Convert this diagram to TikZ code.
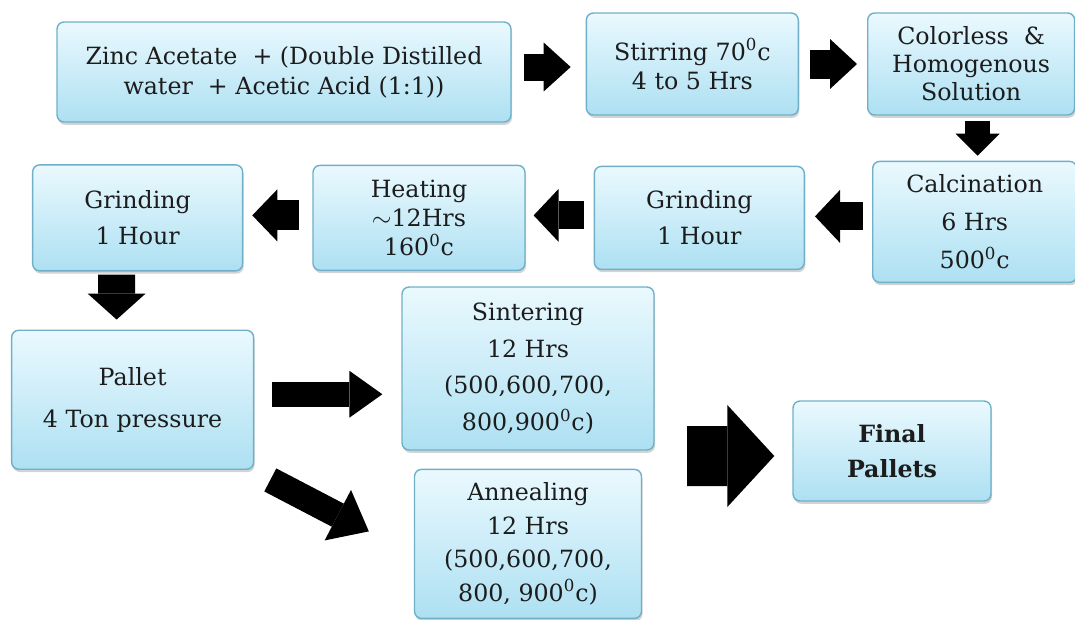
\documentclass[tikz,border=0pt]{standalone}
\usepackage{fontspec}
\setmainfont{DejaVu Serif}
\usepackage{tikz}
\usetikzlibrary{arrows.meta,positioning,shadows}

\definecolor{boxtop}{HTML}{EAF9FE}
\definecolor{boxbottom}{HTML}{ADE0F2}
\definecolor{boxedge}{HTML}{6FB0C8}
\definecolor{boxtext}{HTML}{1C1C1C}

\tikzset{
  stepbox/.style={rectangle, rounded corners=4pt, draw=boxedge, line width=0.8pt,
    top color=boxtop, bottom color=boxbottom,
    drop shadow={shadow xshift=0.6pt, shadow yshift=-1.6pt, opacity=0.35},
    align=center, text=boxtext, inner sep=0pt, font=\fontsize{13.5}{17}\selectfont},
  fatarrow/.style n args={3}{draw=black, line width=#1,
    -{Triangle[width=#2, length=#3, line width=0pt]}}
}

\begin{document}
\begin{tikzpicture}[x=0.02cm, y=-0.02cm]
\useasboundingbox (0,0) rectangle (1075,619);

% top row
\node[stepbox, minimum width=9.08cm, minimum height=2cm] (zinc_acetate) at (284,72) {Zinc Acetate~~+ (Double Distilled\\water~~+ Acetic Acid (1:1))};
\node[stepbox, minimum width=4.24cm, minimum height=2.04cm, right = 1.48cm of zinc_acetate, yshift=0.16cm, font=\fontsize{13.5}{16.5}\selectfont] (stirring) {Stirring 70\textsuperscript{0}c\\4 to 5 Hrs};
\node[stepbox, minimum width=4.14cm, minimum height=2.04cm, right = 1.36cm of stirring, font=\fontsize{13.5}{16}\selectfont] (solution) {Colorless~~\&\\Homogenous\\Solution};

% second row, right to left
\node[stepbox, minimum width=4.08cm, minimum height=2.42cm, below = 0.9cm of solution, xshift=0.07cm, font=\fontsize{13.5}{21.5}\selectfont] (calcination) {Calcination\\6 Hrs\\500\textsuperscript{0}c};
\node[stepbox, minimum width=4.2cm, minimum height=2.06cm, left = 1.34cm of calcination, yshift=0.08cm, font=\fontsize{13.5}{20.5}\selectfont] (grinding_b) {Grinding\\1 Hour};
\node[stepbox, minimum width=4.24cm, minimum height=2.1cm, left = 1.36cm of grinding_b, font=\fontsize{13.5}{16.5}\selectfont] (heating) {Heating\\$\sim$12Hrs\\160\textsuperscript{0}c};
\node[stepbox, minimum width=4.2cm, minimum height=2.12cm, left = 1.38cm of heating, font=\fontsize{13.5}{20.5}\selectfont] (grinding_a) {Grinding\\1 Hour};

% bottom part
\node[stepbox, minimum width=4.84cm, minimum height=2.78cm, below = 1.16cm of grinding_a, xshift=-0.1cm, font=\fontsize{13.5}{24}\selectfont] (pallet) {Pallet\\4 Ton pressure};
\node[stepbox, minimum width=5.04cm, minimum height=3.26cm, font=\fontsize{13.5}{21}\selectfont] (sintering) at (528,368.5) {Sintering\\12 Hrs\\(500,600,700,\\800,900\textsuperscript{0}c)};
\node[stepbox, minimum width=4.54cm, minimum height=2.98cm, below = 0.36cm of sintering, font=\fontsize{13.5}{19}\selectfont] (annealing) {Annealing\\12 Hrs\\(500,600,700,\\800, 900\textsuperscript{0}c)};
\node[stepbox, minimum width=3.96cm, minimum height=2cm, font=\fontsize{13.5}{20}\selectfont\bfseries] (final_pallets) at (892,451) {Final\\Pallets};
\coordinate (merge) at (687,456);

% block arrows
\draw[fatarrow={0.54cm}{0.98cm}{0.54cm}] ([xshift=0.24cm, yshift=0.1cm]zinc_acetate.east) -- ([xshift=-0.3cm, yshift=-0.06cm]stirring.west);
\draw[fatarrow={0.58cm}{1cm}{0.54cm}] ([xshift=0.22cm]stirring.east) -- ([xshift=-0.2cm]solution.west);
\draw[fatarrow={0.5cm}{0.88cm}{0.44cm}] ([xshift=0.13cm, yshift=-0.1cm]solution.south) -- ([xshift=0.06cm, yshift=0.1cm]calcination.north);
\draw[fatarrow={0.56cm}{1.06cm}{0.5cm}] ([xshift=-0.18cm, yshift=0.11cm]calcination.west) -- ([xshift=0.2cm, yshift=0.03cm]grinding_b.east);
\draw[fatarrow={0.56cm}{1.06cm}{0.5cm}] ([xshift=-0.2cm, yshift=0.05cm]grinding_b.west) -- ([xshift=0.16cm, yshift=0.05cm]heating.east);
\draw[fatarrow={0.6cm}{1.04cm}{0.5cm}] ([xshift=-0.26cm, yshift=0.05cm]heating.west) -- ([xshift=0.18cm, yshift=0.05cm]grinding_a.east);
\draw[fatarrow={0.74cm}{1.16cm}{0.52cm}] ([xshift=-0.42cm, yshift=-0.06cm]grinding_a.south) -- ([xshift=-0.32cm, yshift=0.2cm]pallet.north);
\draw[fatarrow={0.5cm}{0.94cm}{0.66cm}] ([xshift=0.36cm, yshift=0.11cm]pallet.east) -- ([xshift=-0.38cm, yshift=0.11cm]pallet.east -| sintering.west);
\draw[fatarrow={0.52cm}{1.14cm}{0.7cm}] ([xshift=0.32cm, yshift=-0.2cm]pallet.south east) -- ([xshift=-0.9cm, yshift=0.25cm]annealing.west);
\draw[fatarrow={1.2cm}{2.04cm}{0.94cm}] (merge) -- ([xshift=-0.36cm, yshift=-0.1cm]final_pallets.west);
\end{tikzpicture}
\end{document}
